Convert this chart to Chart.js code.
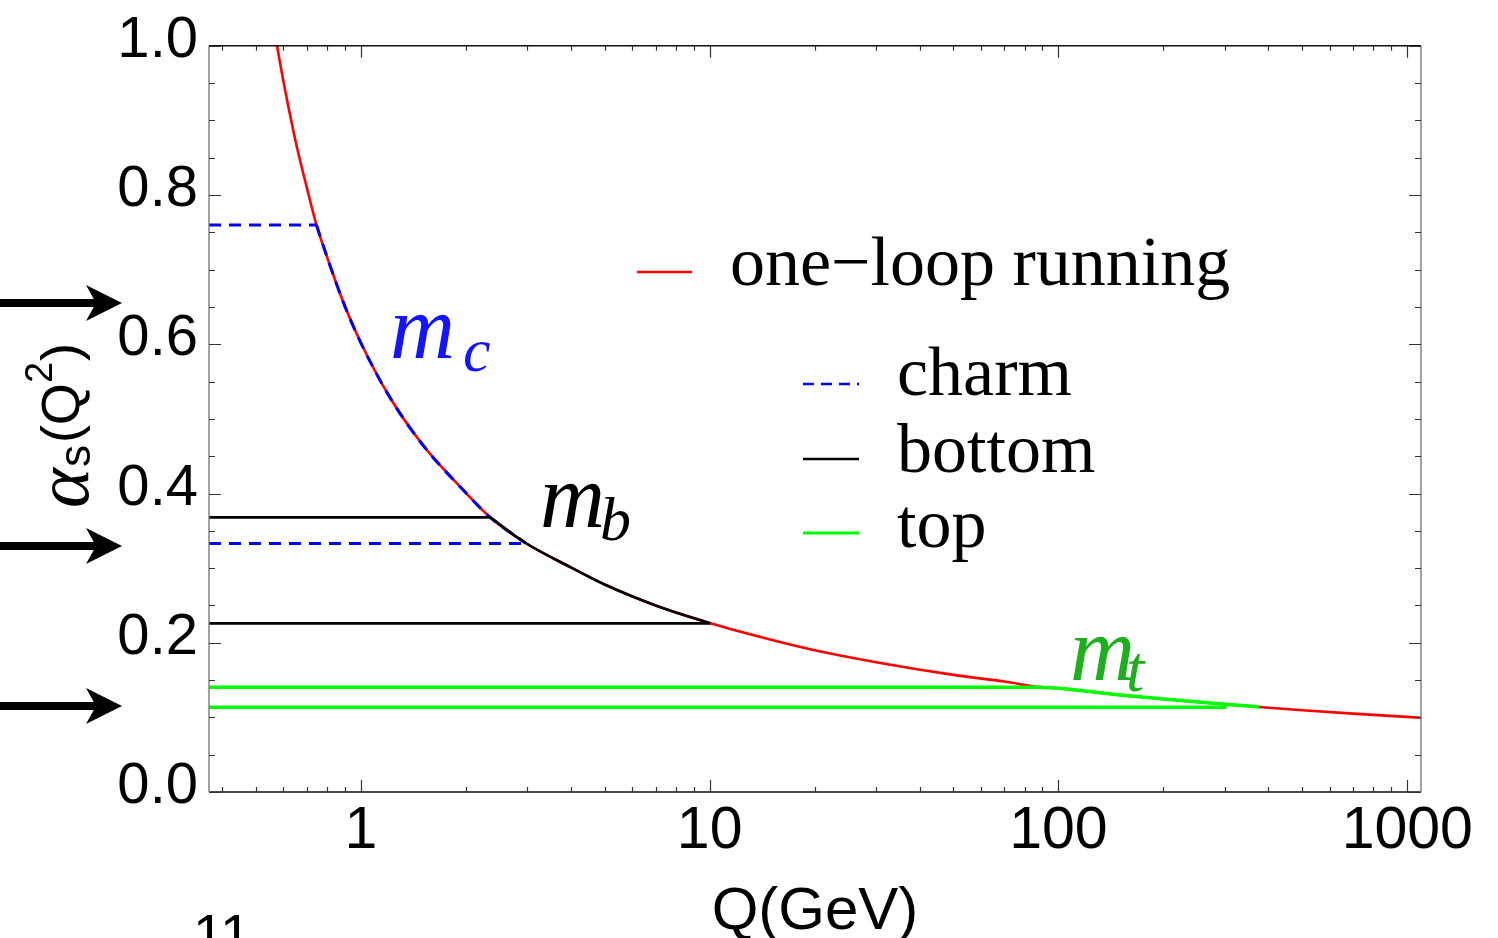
<!DOCTYPE html>
<html>
<head>
<meta charset="utf-8">
<script src="https://cdn.jsdelivr.net/npm/chart.js@4.4.1/dist/chart.umd.min.js"></script>
<style>
  html, body { margin: 0; padding: 0; background: #ffffff; }
  #wrap { width: 1498px; height: 938px; position: relative; overflow: hidden; }
</style>
</head>
<body>
<div id="wrap"><canvas id="c" width="1498" height="938"></canvas></div>
<script>
// ---------------- data ----------------
const Q = [0.575, 0.6, 0.65, 0.7, 0.746, 0.8, 0.9, 1, 1.2, 1.5, 2, 2.35, 2.96, 4, 5, 7, 10.04,
           15, 20, 30, 50, 70, 88.6, 100, 150, 200, 300, 376, 500, 700, 1095];
const alphaOneLoop = [1.0, 0.952, 0.872, 0.810, 0.760, 0.717, 0.651, 0.602, 0.532, 0.466, 0.401, 0.368, 0.334, 0.301, 0.278, 0.250, 0.226,
           0.204, 0.190, 0.174, 0.157, 0.148, 0.1405, 0.139, 0.130, 0.1247, 0.1177, 0.1140, 0.1096, 0.1050, 0.0995];

// threshold ranges along the curve
const charmRange  = [0.746, 2.96];
const bottomRange = [2.35, 10.04];
const topRange    = [88.6, 376];

// horizontal levels: [alpha value, Q where the line ends]
const charmLevels  = [[0.760, 0.746], [0.333, 2.96]];
const bottomLevels = [[0.368, 2.35], [0.226, 10.04]];
const topLevels    = [[0.1405, 88.6], [0.1135, 303]];

const seriesNames = ['one\u2212loop running', 'charm', 'bottom', 'top'];

const X_MIN = 0.367, X_MAX = 1095;
const Y_MIN = 0, Y_MAX = 1;
const xMajorTicks = [1, 10, 100, 1000];
const xTickLabels = ['1', '10', '100', '1000'];
const xMinorTicks = [0.4, 0.5, 0.6, 0.7, 0.8, 0.9, 2, 3, 4, 5, 6, 7, 8, 9,
                     20, 30, 40, 50, 60, 70, 80, 90, 200, 300, 400, 500, 600, 700, 800, 900];
const yMajorTicks = [0, 0.2, 0.4, 0.6, 0.8, 1.0];
const yTickLabels = ['0.0', '0.2', '0.4', '0.6', '0.8', '1.0'];
const yMinorTicks = [0.05, 0.1, 0.15, 0.25, 0.3, 0.35, 0.45, 0.5, 0.55, 0.65, 0.7, 0.75, 0.85, 0.9, 0.95];

// ---------------- build datasets ----------------
const curvePts = Q.map((q, i) => ({ x: q, y: alphaOneLoop[i] }));
const seg = (r) => curvePts.filter(p => p.x >= r[0] - 1e-9 && p.x <= r[1] + 1e-9);
const hline = (lv) => [{ x: X_MIN, y: lv[0] }, { x: lv[1], y: lv[0] }];

const RED = '#ff0000', BLUE = '#0000ff', BLACK = '#000000', GREEN = '#00ff00';
const dash = [12, 8];

const datasets = [
  { label: seriesNames[0], data: curvePts, borderColor: RED, borderWidth: 2.6, cubicInterpolationMode: 'monotone', order: 10 },
  { label: seriesNames[1], data: seg(charmRange), borderColor: BLUE, borderWidth: 3, borderDash: dash, cubicInterpolationMode: 'monotone', order: 9 },
  { label: seriesNames[1], data: hline(charmLevels[0]), borderColor: BLUE, borderWidth: 3, borderDash: dash, order: 9 },
  { label: seriesNames[1], data: hline(charmLevels[1]), borderColor: BLUE, borderWidth: 3, borderDash: dash, order: 9 },
  { label: seriesNames[2], data: seg(bottomRange), borderColor: BLACK, borderWidth: 2.6, cubicInterpolationMode: 'monotone', order: 8 },
  { label: seriesNames[2], data: hline(bottomLevels[0]), borderColor: BLACK, borderWidth: 2.6, order: 8 },
  { label: seriesNames[2], data: hline(bottomLevels[1]), borderColor: BLACK, borderWidth: 2.6, order: 8 },
  { label: seriesNames[3], data: seg(topRange), borderColor: GREEN, borderWidth: 3.5, cubicInterpolationMode: 'monotone', order: 7 },
  { label: seriesNames[3], data: hline(topLevels[0]), borderColor: GREEN, borderWidth: 3.5, order: 7 },
  { label: seriesNames[3], data: hline(topLevels[1]), borderColor: GREEN, borderWidth: 3.5, order: 7 }
];
datasets.forEach(d => { d.pointRadius = 0; d.fill = false; d.tension = 0; });

// ---------------- decorations plugin ----------------
const deco = {
  id: 'deco',
  afterDatasetsDraw(chart) {
    const ctx = chart.ctx, a = chart.chartArea;
    const xs = chart.scales.x, ys = chart.scales.y;
    ctx.save();
    // frame
    ctx.lineWidth = 1.4;
    ctx.strokeStyle = '#111';
    ctx.beginPath();
    ctx.moveTo(a.left, a.bottom); ctx.lineTo(a.right, a.bottom);
    ctx.moveTo(a.left, a.top); ctx.lineTo(a.right, a.top);
    ctx.stroke();
    ctx.strokeStyle = '#7a7a7a';
    ctx.beginPath();
    ctx.moveTo(a.left, a.top); ctx.lineTo(a.left, a.bottom);
    ctx.moveTo(a.right, a.top); ctx.lineTo(a.right, a.bottom);
    ctx.stroke();
    // ticks (inward, all four sides)
    ctx.lineWidth = 1.2;
    ctx.strokeStyle = '#333';
    ctx.beginPath();
    const xt = (v, len) => {
      const px = Math.round(xs.getPixelForValue(v)) + 0.5;
      ctx.moveTo(px, a.bottom); ctx.lineTo(px, a.bottom - len);
      ctx.moveTo(px, a.top); ctx.lineTo(px, a.top + len);
    };
    const yt = (v, len) => {
      const py = Math.round(ys.getPixelForValue(v)) + 0.5;
      ctx.moveTo(a.left, py); ctx.lineTo(a.left + len, py);
      ctx.moveTo(a.right, py); ctx.lineTo(a.right - len, py);
    };
    xMajorTicks.forEach(v => xt(v, 12));
    xMinorTicks.forEach(v => xt(v, 5));
    yMajorTicks.forEach(v => yt(v, 12));
    yMinorTicks.forEach(v => yt(v, 6));
    ctx.stroke();

    // legend
    const legendRows = [
      { name: seriesNames[0], color: RED,   dash: [],      lw: 2.5, x0: 637, x1: 692, ly: 272, tx: 730, ty: 285 },
      { name: seriesNames[1], color: BLUE,  dash: [11, 7], lw: 2.5, x0: 803, x1: 859, ly: 384, tx: 897, ty: 395 },
      { name: seriesNames[2], color: BLACK, dash: [],      lw: 2.5, x0: 803, x1: 859, ly: 459, tx: 897, ty: 472 },
      { name: seriesNames[3], color: GREEN, dash: [],      lw: 3,   x0: 803, x1: 859, ly: 533, tx: 897, ty: 547 }
    ];
    legendRows.forEach(r => {
      ctx.beginPath();
      ctx.setLineDash(r.dash);
      ctx.strokeStyle = r.color; ctx.lineWidth = r.lw;
      ctx.moveTo(r.x0, r.ly); ctx.lineTo(r.x1, r.ly);
      ctx.stroke();
      ctx.setLineDash([]);
      ctx.fillStyle = '#000';
      ctx.font = '70px "Liberation Serif", "Times New Roman", serif';
      ctx.textAlign = 'left'; ctx.textBaseline = 'alphabetic';
      ctx.fillText(r.name, r.tx, r.ty);
    });

    // mass annotations
    const masses = [
      { sub: 'c', color: '#1414ff', mx: 390, my: 358, sx: 463, sy: 371, ss: 62 },
      { sub: 'b', color: '#000000', mx: 540, my: 527, sx: 600, sy: 540, ss: 62 },
      { sub: 't', color: '#1db01d', mx: 1070, my: 680, sx: 1126, sy: 691, ss: 66 }
    ];
    masses.forEach(m => {
      ctx.fillStyle = m.color;
      ctx.font = 'italic 90px "Liberation Serif", serif';
      ctx.fillText('m', m.mx, m.my);
      ctx.font = 'italic ' + m.ss + 'px "Liberation Serif", serif';
      ctx.fillText(m.sub, m.sx, m.sy);
    });

    // arrows on the left
    ctx.fillStyle = '#000'; ctx.strokeStyle = '#000';
    [303, 546, 706].forEach(y => {
      ctx.lineWidth = 8;
      ctx.beginPath(); ctx.moveTo(0, y); ctx.lineTo(98, y); ctx.stroke();
      ctx.beginPath();
      ctx.moveTo(122, y); ctx.lineTo(86, y - 18); ctx.lineTo(96, y); ctx.lineTo(86, y + 18); ctx.closePath();
      ctx.fill();
    });

    // y-axis title  alpha_s(Q^2)
    ctx.save();
    ctx.translate(88, 508);
    ctx.rotate(-Math.PI / 2);
    ctx.fillStyle = '#000';
    ctx.textAlign = 'left'; ctx.textBaseline = 'alphabetic';
    let x = 0;
    ctx.font = 'italic 76px "Liberation Serif", serif';
    ctx.fillText('\u03b1', x, 0); x += ctx.measureText('\u03b1').width + 1;
    ctx.font = '44px "Liberation Sans", sans-serif';
    ctx.fillText('s', x, 2); x += ctx.measureText('s').width + 2;
    ctx.font = '54px "Liberation Sans", sans-serif';
    ctx.fillText('(Q', x, -9); x += ctx.measureText('(Q').width;
    ctx.font = '38px "Liberation Sans", sans-serif';
    ctx.fillText('2', x, -36); x += ctx.measureText('2').width + 1;
    ctx.font = '54px "Liberation Sans", sans-serif';
    ctx.fillText(')', x, -9);
    ctx.restore();

    // page number fragment at bottom
    ctx.fillStyle = '#000';
    ctx.font = '56px "Liberation Sans", sans-serif';
    ctx.fillText('11', 193, 953);
    ctx.restore();
  }
};

new Chart(document.getElementById('c').getContext('2d'), {
  type: 'line',
  data: { datasets },
  plugins: [deco],
  options: {
    responsive: false,
    animation: false,
    devicePixelRatio: 1,
    layout: { padding: { left: 0, top: 43, right: 77, bottom: 0 } },
    plugins: { legend: { display: false }, tooltip: { enabled: false } },
    elements: { point: { radius: 0 } },
    scales: {
      x: {
        type: 'logarithmic', position: 'bottom', min: X_MIN, max: X_MAX,
        grid: { display: false, drawTicks: false }, border: { display: false },
        afterBuildTicks: s => { s.ticks = xMajorTicks.map(v => ({ value: v })); },
        afterFit: s => { s.height = 146; },
        ticks: {
          autoSkip: false, maxRotation: 0, minRotation: 0, padding: 4, color: '#000',
          font: { family: '"Liberation Sans", Arial, sans-serif', size: 59 },
          callback: (v) => { const i = xMajorTicks.indexOf(v); return i >= 0 ? xTickLabels[i] : ''; }
        },
        title: {
          display: true, text: 'Q(GeV)', color: '#000',
          font: { family: '"Liberation Sans", Arial, sans-serif', size: 60, lineHeight: 0.8 },
          padding: { top: 0, bottom: 2 }
        }
      },
      y: {
        type: 'linear', position: 'left', min: Y_MIN, max: Y_MAX,
        grid: { display: false, drawTicks: false }, border: { display: false },
        afterBuildTicks: s => { s.ticks = yMajorTicks.map(v => ({ value: v })); },
        afterFit: s => { s.width = 209; },
        ticks: {
          padding: 11, labelOffset: -5, color: '#000',
          font: { family: '"Liberation Sans", Arial, sans-serif', size: 58 },
          callback: (v) => { const i = yMajorTicks.findIndex(t => Math.abs(t - v) < 1e-9); return i >= 0 ? yTickLabels[i] : ''; }
        }
      }
    }
  }
});
</script>
</body>
</html>
